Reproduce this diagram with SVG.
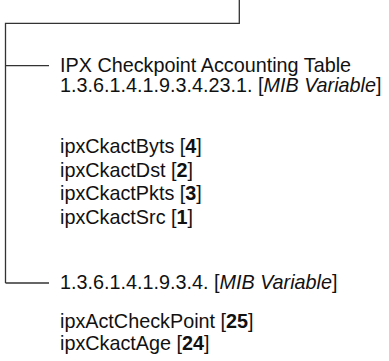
<svg xmlns="http://www.w3.org/2000/svg" width="389" height="361" viewBox="0 0 389 361">
  <style>
    .wire { fill: none; stroke: #333333; stroke-width: 1.3; }
    text { font-family: "Liberation Sans", Arial, sans-serif; font-size: 19.8px; fill: #111111; }
    .em { font-style: italic; }
    .b { font-weight: bold; }
  </style>
  <rect width="389" height="361" fill="#ffffff"/>

  <!-- tree connectors -->
  <g id="connectors">
    <path class="wire" d="M239.3 0 V23.3 H5.5 V283"/>
    <path class="wire" d="M5.5 65.7 H49"/>
    <path class="wire" d="M5.5 283 H49"/>
  </g>

  <!-- IPX checkpoint accounting table -->
  <g id="node-acct-table">
    <text x="60" y="71.5">IPX Checkpoint Accounting Table</text>
    <text x="60" y="92">1.3.6.1.4.1.9.3.4.23.1. [<tspan class="em">MIB Variable</tspan>]</text>
    <text x="60" y="153">ipxCkactByts [<tspan class="b">4</tspan>]</text>
    <text x="60" y="176.5">ipxCkactDst [<tspan class="b">2</tspan>]</text>
    <text x="60" y="200">ipxCkactPkts [<tspan class="b">3</tspan>]</text>
    <text x="60" y="223.5">ipxCkactSrc [<tspan class="b">1</tspan>]</text>
  </g>

  <!-- scalar variables under 1.3.6.1.4.1.9.3.4 -->
  <g id="node-scalars">
    <text x="60" y="289">1.3.6.1.4.1.9.3.4. [<tspan class="em">MIB Variable</tspan>]</text>
    <text x="60" y="327.5">ipxActCheckPoint [<tspan class="b">25</tspan>]</text>
    <text x="60" y="350">ipxCkactAge [<tspan class="b">24</tspan>]</text>
  </g>
</svg>
